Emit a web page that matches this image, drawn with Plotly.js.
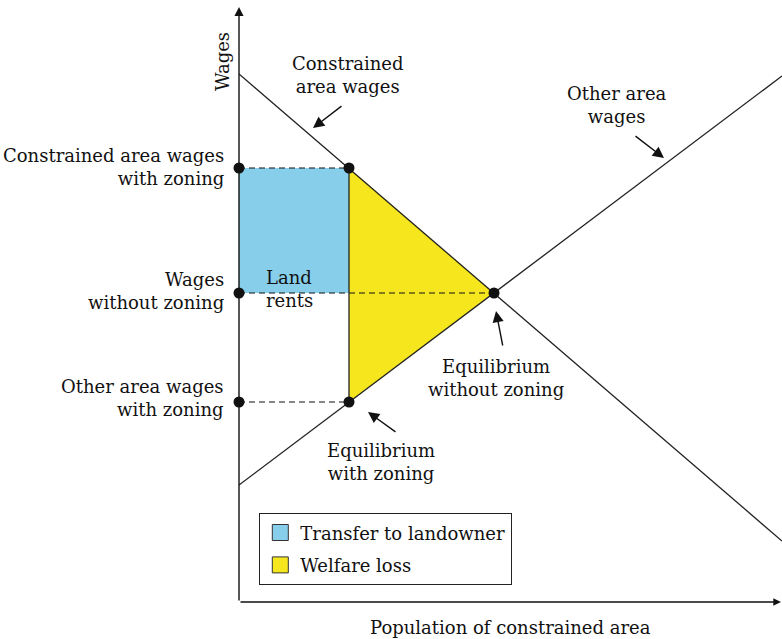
<!DOCTYPE html>
<html><head><meta charset="utf-8">
<script src="https://cdn.plot.ly/plotly-3.0.1.min.js"></script>
<style>html,body{margin:0;padding:0;background:#fff}</style>
</head><body><div id="chart" style="width:782px;height:639px"></div>
<script>
// population (x) and wage (y) in chart units
const constrainedX = [0, 543];
const constrainedY = [528, 61];
const otherX = [0, 543];
const otherY = [117, 526];
const wageWithZoningHigh = 434;   // constrained area wages with zoning
const wageNoZoning = 309;         // wages without zoning
const wageWithZoningLow = 200;    // other area wages with zoning
const popWithZoning = 110;
const popNoZoning = 255;
const dotsX = [0, 0, 0, popWithZoning, popNoZoning, popWithZoning];
const dotsY = [wageWithZoningHigh, wageNoZoning, wageWithZoningLow, wageWithZoningHigh, wageNoZoning, wageWithZoningLow];
const transferX = [0, popWithZoning, popWithZoning, 0, 0];
const transferY = [wageNoZoning, wageNoZoning, wageWithZoningHigh, wageWithZoningHigh, wageNoZoning];
const lossX = [popWithZoning, popNoZoning, popWithZoning, popWithZoning];
const lossY = [wageWithZoningHigh, wageNoZoning, wageWithZoningLow, wageWithZoningHigh];
const legendNames = ['Transfer to landowner', 'Welfare loss'];
const legendColors = ['#87CEEB', '#F5E61E'];

const F = 'DejaVu Serif, serif';
const fs = 18;
const traces = [
  {x: transferX, y: transferY, type: 'scatter', mode: 'lines', fill: 'toself', fillcolor: legendColors[0], line: {width: 0}, showlegend: false, hoverinfo: 'skip'},
  {x: lossX, y: lossY, type: 'scatter', mode: 'lines', fill: 'toself', fillcolor: legendColors[1], line: {width: 0}, showlegend: false, hoverinfo: 'skip'},
  {x: [0, popWithZoning], y: [wageWithZoningHigh, wageWithZoningHigh], mode: 'lines', line: {color: '#111', width: 1.2, dash: '6px,4px'}, showlegend: false},
  {x: [0, popNoZoning], y: [wageNoZoning, wageNoZoning], mode: 'lines', line: {color: '#111', width: 1.2, dash: '6px,4px'}, showlegend: false},
  {x: [0, popWithZoning], y: [wageWithZoningLow, wageWithZoningLow], mode: 'lines', line: {color: '#111', width: 1.2, dash: '6px,4px'}, showlegend: false},
  {x: [popWithZoning, popWithZoning], y: [wageWithZoningLow, wageWithZoningHigh], mode: 'lines', line: {color: '#222', width: 1.3}, showlegend: false},
  {x: constrainedX, y: constrainedY, mode: 'lines', line: {color: '#222', width: 1.3}, showlegend: false},
  {x: otherX, y: otherY, mode: 'lines', line: {color: '#222', width: 1.3}, showlegend: false},
  {x: dotsX, y: dotsY, mode: 'markers', marker: {color: '#111', size: 11}, cliponaxis: false, showlegend: false},
  {x: [null], y: [null], mode: 'markers', name: legendNames[0], legendgroup: 'a', marker: {symbol: 'square', size: 18, color: legendColors[0], line: {color: '#333', width: 1}}},
  {x: [null], y: [null], mode: 'markers', name: legendNames[1], legendgroup: 'b', marker: {symbol: 'square', size: 18, color: legendColors[1], line: {color: '#333', width: 1}}}
];

function px(p) { return (p - 239) / 543; }
function py(p) { return (602 - p) / 595; }
function txt(text, x, y, xanchor, align) {
  return {text: text, x: px(x), y: py(y), xref: 'paper', yref: 'paper', showarrow: false, xanchor: xanchor, yanchor: 'middle', align: align || 'center', font: {family: F, size: fs, color: '#111'}};
}
function arr(x0, y0, x1, y1, size) {
  return {text: '', x: (x1 - 239), y: (602 - y1), ax: (x0 - 239), ay: (602 - y0), xref: 'x', yref: 'y', axref: 'x', ayref: 'y', showarrow: true, arrowhead: 2, arrowsize: size || 1.6, arrowwidth: 1.4, arrowcolor: '#111'};
}
const annotations = [
  arr(239, 602, 239, 7, 1.3),
  arr(239, 602, 781, 602, 1.1),
  txt('Wages', 222, 62, 'center'),
  txt('Constrained<br>area wages', 348, 75, 'center'),
  arr(343, 105, 313, 128),
  txt('Other area<br>wages', 617, 105, 'center'),
  arr(634, 135, 664, 158),
  txt('Constrained area wages<br>with zoning', 226, 167, 'right', 'right'),
  txt('Wages<br>without zoning', 226, 291, 'right', 'right'),
  txt('Other area wages<br>with zoning', 226, 398, 'right', 'right'),
  txt('Land<br>rents', 264, 289, 'left', 'left'),
  txt('Equilibrium<br>without zoning', 496, 378, 'center'),
  arr(503, 347, 496, 311),
  txt('Equilibrium<br>with zoning', 381, 462, 'center'),
  arr(397, 433, 368, 412),
  txt('Population of constrained area', 510, 627, 'center')
];
annotations[2].textangle = -90;

const layout = {
  width: 782, height: 639,
  margin: {l: 239, r: 0, t: 7, b: 37},
  paper_bgcolor: '#fff', plot_bgcolor: '#fff',
  xaxis: {range: [0, 543], showgrid: false, zeroline: false, showticklabels: false, showline: false, ticks: ''},
  yaxis: {range: [0, 595], showgrid: false, zeroline: false, showticklabels: false, showline: false, ticks: ''},
  showlegend: true,
  legend: {x: 20/543, y: (602-513)/595, xanchor: 'left', yanchor: 'top', bordercolor: '#222', borderwidth: 1.3, bgcolor: '#fff', font: {family: F, size: fs, color: '#111'}, tracegroupgap: 6},
  annotations: annotations,
  font: {family: F}
};
Plotly.newPlot('chart', traces, layout, {displayModeBar: false, staticPlot: true});
</script></body></html>
